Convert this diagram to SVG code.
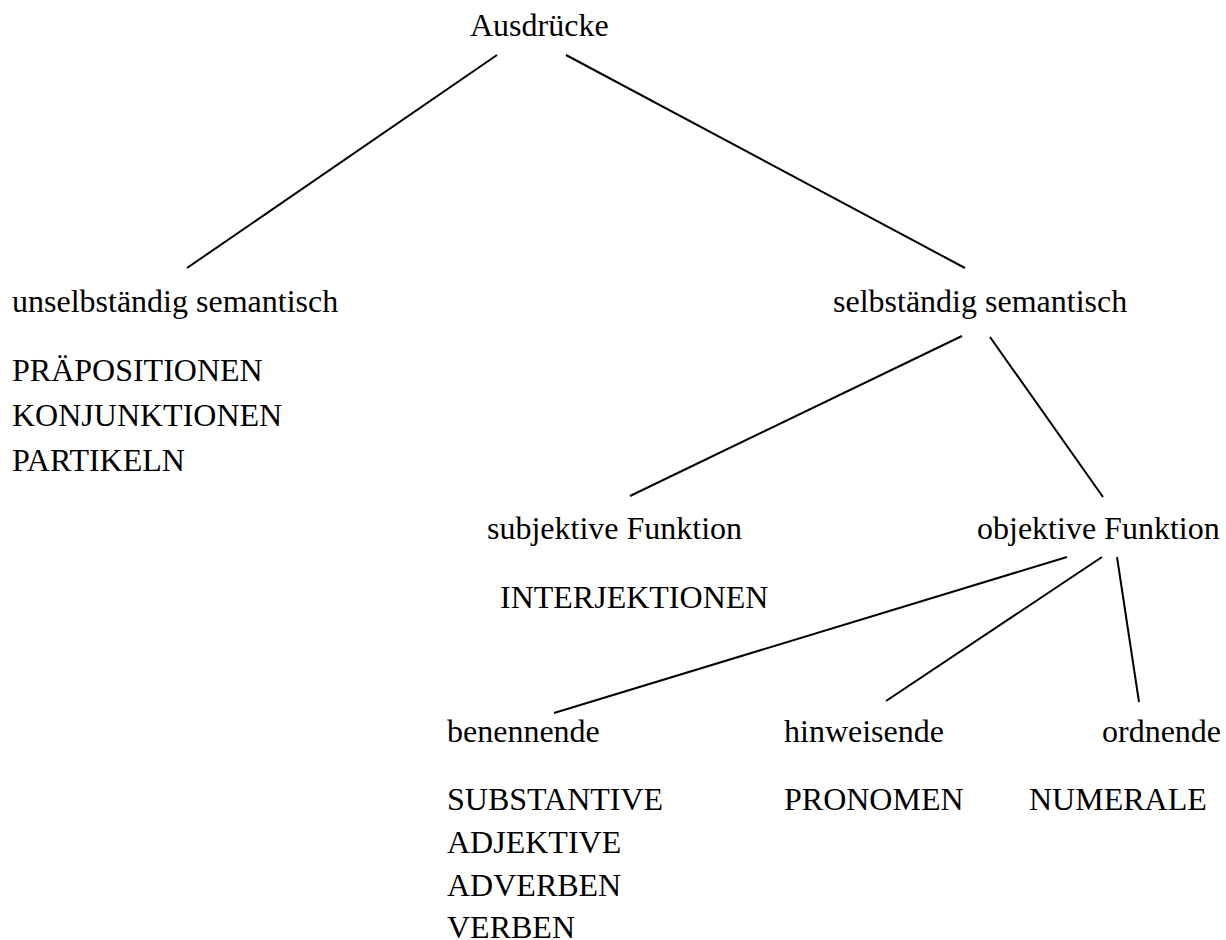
<svg xmlns="http://www.w3.org/2000/svg" width="1226" height="940" viewBox="0 0 1226 940">
<style>
text{font-family:"Liberation Serif","Times New Roman",serif;font-size:32px;fill:#000}
line{stroke:#000;stroke-width:2}
</style>
<rect width="1226" height="940" fill="#fff"/>
<g id="connectors">
<line x1="497" y1="55" x2="187" y2="268"/>
<line x1="566" y1="55" x2="965" y2="268"/>
<line x1="962" y1="336" x2="630" y2="496"/>
<line x1="990" y1="337" x2="1103" y2="497"/>
<line x1="1067" y1="557" x2="554" y2="713"/>
<line x1="1102" y1="557" x2="886" y2="701"/>
<line x1="1117" y1="557" x2="1139" y2="702"/>
</g>
<g id="root"><text x="470" y="36">Ausdrücke</text></g>
<g id="unselbstaendig"><text x="12" y="312">unselbständig semantisch</text>
<text x="12" y="381">PRÄPOSITIONEN</text><text x="12" y="426">KONJUNKTIONEN</text><text x="12" y="471">PARTIKELN</text></g>
<g id="selbstaendig"><text x="833" y="312">selbständig semantisch</text></g>
<g id="subjektiv"><text x="487" y="539">subjektive Funktion</text><text x="500" y="608">INTERJEKTIONEN</text></g>
<g id="objektiv"><text x="977" y="539">objektive Funktion</text></g>
<g id="benennende"><text x="447" y="742">benennende</text>
<text x="447" y="810">SUBSTANTIVE</text><text x="447" y="853">ADJEKTIVE</text><text x="447" y="896">ADVERBEN</text><text x="447" y="938">VERBEN</text></g>
<g id="hinweisende"><text x="784" y="742">hinweisende</text><text x="784" y="810">PRONOMEN</text></g>
<g id="ordnende"><text x="1102" y="742">ordnende</text><text x="1029" y="810">NUMERALE</text></g>
</svg>
